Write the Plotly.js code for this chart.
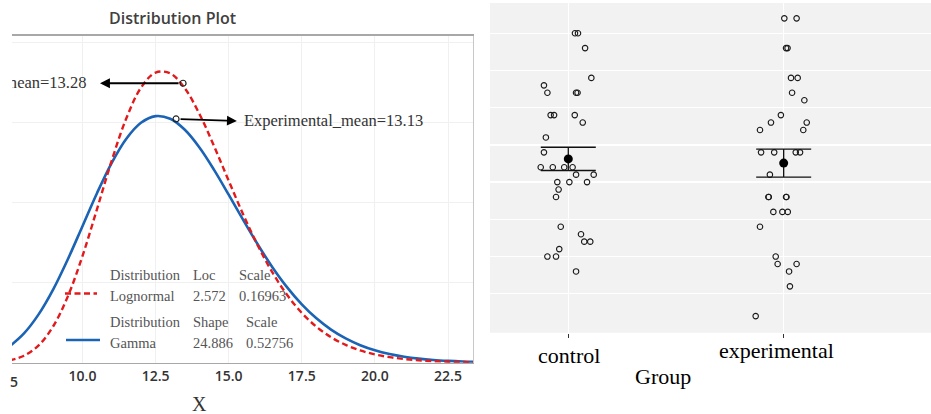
<!DOCTYPE html>
<html>
<head>
<meta charset="utf-8">
<script src="https://cdn.plot.ly/plotly-3.0.1.min.js"></script>
<style>html,body{margin:0;padding:0;background:#fff;}#chart{width:931px;height:414px;}</style>
</head>
<body>
<div id="chart"></div>
<script>
// ---------- Left panel: distribution curves ----------
const xValues = [7.5, 8, 8.5, 9, 9.5, 10, 10.5, 11, 11.5, 12, 12.5, 13, 13.5, 14, 14.5, 15, 15.5, 16, 16.5, 17, 17.5, 18, 18.5, 19, 19.5, 20, 20.5, 21, 21.5, 22, 22.5, 23, 23.5];
const lognormalDensity = [0.00143, 0.00434, 0.01082, 0.02277, 0.04145, 0.06663, 0.09614, 0.12626, 0.15271, 0.17178, 0.18128, 0.18075, 0.17138, 0.15536, 0.13530, 0.11367, 0.09246, 0.07306, 0.05623, 0.04227, 0.03110, 0.02245, 0.01592, 0.01112, 0.00764, 0.00519, 0.00348, 0.00231, 0.00152, 0.00099, 0.00064, 0.00041, 0.00026];
const gammaDensity = [0.01010, 0.01831, 0.03019, 0.04583, 0.06464, 0.08531, 0.10605, 0.12486, 0.13995, 0.14992, 0.15407, 0.15239, 0.14550, 0.13444, 0.12049, 0.10497, 0.08904, 0.07367, 0.05955, 0.04709, 0.03648, 0.02771, 0.02066, 0.01515, 0.01092, 0.00774, 0.00541, 0.00373, 0.00254, 0.00170, 0.00113, 0.00074, 0.00048];
const xTickValues = [10, 12.5, 15, 17.5, 20, 22.5];
const meanLabels = ['Control_mean=13.28', 'Experimental_mean=13.13'];
const meanMarkerX = [13.44, 13.20];
const meanMarkerY = [0.1746, 0.1523];
const arrowTipX = [10.60, 15.28];
const arrowTipY = [0.1746, 0.1510];
const labelX = [10.137, 15.52];
const labelY = [0.1741, 0.1504];
const tableHeader1 = ['Distribution', 'Loc', 'Scale'];
const tableRow1 = ['Lognormal', '2.572', '0.16963'];
const tableHeader2 = ['Distribution', 'Shape', 'Scale'];
const tableRow2 = ['Gamma', '24.886', '0.52756'];

// ---------- Right panel: jittered dot plot ----------
const groups = ['control', 'experimental'];
const controlValues = [17.5, 17.5, 17.0, 16.0, 15.75, 15.5, 15.5, 15.5, 14.75, 14.75, 14.75, 14.5, 14.0, 13.5, 13.0, 13.0, 13.0, 13.0, 12.75, 12.75, 12.5, 12.5, 12.5, 12.25, 12.0, 11.0, 10.75, 10.5, 10.5, 10.25, 10.0, 10.0, 9.5];
const controlJitter = [0.031, 0.045, 0.078, 0.107, -0.113, -0.097, 0.036, 0.043, -0.082, -0.066, 0.030, 0.067, -0.104, -0.113, -0.128, -0.072, -0.019, 0.020, 0.036, 0.118, -0.051, 0.005, 0.087, -0.045, -0.057, -0.035, 0.059, 0.074, 0.102, -0.042, -0.097, -0.057, 0.036];
const experimentalValues = [18.0, 18.0, 17.0, 17.0, 16.0, 16.0, 15.5, 15.25, 14.75, 14.5, 14.5, 14.25, 14.25, 13.5, 13.5, 13.5, 13.5, 12.75, 12.0, 12.0, 12.0, 12.0, 11.5, 11.5, 11.5, 11.0, 10.0, 9.75, 9.75, 9.5, 9.0, 8.0];
const experimentalJitter = [0.003, 0.060, 0.011, 0.018, 0.034, 0.065, 0.039, 0.096, -0.013, -0.059, 0.107, -0.110, 0.091, -0.105, -0.044, 0.056, 0.076, -0.064, -0.071, -0.069, 0.011, 0.013, -0.048, -0.006, 0.019, -0.110, -0.037, -0.028, 0.060, 0.025, 0.029, -0.130];
const groupMeans = [13.28, 13.14];
const groupErrPlus = [0.39, 0.47];
const groupErrMinus = [0.39, 0.47];
const yGridValues = [8.75, 10, 11.25, 12.5, 13.75, 15, 16.25, 17.5];

// ---------- helpers (pixel -> paper) ----------
const W = 931, H = 414;
const px = v => v / W;
const py = v => 1 - v / H;
const SERIF = 'Liberation Serif, Times New Roman, serif';
const SANS = 'Open Sans, Noto Sans, sans-serif';

const traces = [
  { x: xValues, y: gammaDensity, type: 'scatter', mode: 'lines', xaxis: 'x', yaxis: 'y',
    line: { color: '#1b63b5', width: 2.6, shape: 'spline' }, hoverinfo: 'skip' },
  { x: xValues, y: lognormalDensity, type: 'scatter', mode: 'lines', xaxis: 'x', yaxis: 'y',
    line: { color: '#e31a1c', width: 2.4, dash: '6px,3.5px', shape: 'spline' }, hoverinfo: 'skip' },
  { x: meanMarkerX, y: meanMarkerY, type: 'scatter', mode: 'markers', xaxis: 'x', yaxis: 'y',
    marker: { symbol: 'circle-open', size: 6, color: '#222', line: { width: 1.2, color: '#222' } }, hoverinfo: 'skip' },
  // mean labels as text clipped to the plot area (the control label runs past the left edge)
  { x: [labelX[0]], y: [labelY[0]], type: 'scatter', mode: 'text', xaxis: 'x', yaxis: 'y', cliponaxis: true,
    text: [meanLabels[0]], textposition: 'middle left', textfont: { family: SERIF, size: 16.5, color: '#333' }, hoverinfo: 'skip' },
  { x: [labelX[1]], y: [labelY[1]], type: 'scatter', mode: 'text', xaxis: 'x', yaxis: 'y', cliponaxis: true,
    text: [meanLabels[1]], textposition: 'middle right', textfont: { family: SERIF, size: 16.5, color: '#333' }, hoverinfo: 'skip' },
  { x: controlJitter.map(j => 1 + j), y: controlValues, type: 'scatter', mode: 'markers', xaxis: 'x2', yaxis: 'y2',
    marker: { symbol: 'circle-open', size: 5.5, color: '#1a1a1a', line: { width: 1.1, color: '#1a1a1a' } }, hoverinfo: 'skip' },
  { x: experimentalJitter.map(j => 2 + j), y: experimentalValues, type: 'scatter', mode: 'markers', xaxis: 'x2', yaxis: 'y2',
    marker: { symbol: 'circle-open', size: 5.5, color: '#1a1a1a', line: { width: 1.1, color: '#1a1a1a' } }, hoverinfo: 'skip' },
  { x: [1, 2], y: groupMeans, type: 'scatter', mode: 'markers', xaxis: 'x2', yaxis: 'y2',
    marker: { symbol: 'circle', size: 9, color: '#000' },
    error_y: { type: 'data', symmetric: false, array: groupErrPlus, arrayminus: groupErrMinus,
      width: 27.5, thickness: 1.3, color: '#111' }, hoverinfo: 'skip' }
];

const annotations = [];
annotations.push({ text: 'Distribution Plot', xref: 'paper', yref: 'paper', x: px(172), y: py(18),
  xanchor: 'center', yanchor: 'middle', showarrow: false, font: { family: SANS, size: 16, weight: 600, color: '#404040' } });
annotations.push({ text: 'X', xref: 'paper', yref: 'paper', x: px(199), y: py(404), xanchor: 'center', yanchor: 'middle',
  showarrow: false, font: { family: SERIF, size: 20, color: '#333' } });
annotations.push({ text: '5', xref: 'paper', yref: 'paper', x: px(13.5), y: py(381.5), xanchor: 'center', yanchor: 'middle',
  showarrow: false, font: { family: SANS, size: 14, weight: 600, color: '#333' } });
for (let i = 0; i < 2; i++) {
  annotations.push({ x: arrowTipX[i], y: arrowTipY[i], ax: meanMarkerX[i], ay: meanMarkerY[i], axref: 'x', ayref: 'y',
    xref: 'x', yref: 'y', text: '', showarrow: true, arrowhead: 2, arrowsize: 1.1, arrowwidth: 1.8, arrowcolor: '#000',
    startstandoff: 3 });
}
const tableRows = [[tableHeader1, 275, [108, 191, 237]], [tableRow1, 296, [108, 191, 237]],
                   [tableHeader2, 321.5, [108, 191, 244]], [tableRow2, 342.5, [108, 191, 244]]];
tableRows.forEach(([cells, yy, cols]) => {
  cells.forEach((c, j) => annotations.push({ text: c, xref: 'paper', yref: 'paper', x: px(cols[j]), y: py(yy),
    xanchor: 'left', yanchor: 'middle', showarrow: false, font: { family: SERIF, size: 14.5, color: '#555' } }));
});
annotations.push({ text: groups[0], xref: 'paper', yref: 'paper', x: px(569), y: py(355), xanchor: 'center', yanchor: 'middle',
  showarrow: false, font: { family: SERIF, size: 22, color: '#000' } });
annotations.push({ text: groups[1], xref: 'paper', yref: 'paper', x: px(776.5), y: py(350), xanchor: 'center', yanchor: 'middle',
  showarrow: false, font: { family: SERIF, size: 22, color: '#000' } });
annotations.push({ text: 'Group', xref: 'paper', yref: 'paper', x: px(662.5), y: py(376), xanchor: 'center', yanchor: 'middle',
  showarrow: false, font: { family: SERIF, size: 22, color: '#000' } });

const shapes = [
  { type: 'rect', xref: 'x2 domain', yref: 'y2 domain', x0: 0, x1: 1, y0: 0, y1: 1, layer: 'below',
    fillcolor: '#f2f2f2', line: { width: 0 } },
  { type: 'line', xref: 'paper', yref: 'paper', x0: px(65), x1: px(97), y0: py(293.5), y1: py(293.5),
    line: { color: '#e31a1c', width: 2.4, dash: '6px,3.5px' } },
  { type: 'line', xref: 'paper', yref: 'paper', x0: px(66), x1: px(100), y0: py(340), y1: py(340),
    line: { color: '#1b63b5', width: 2.6 } }
];

const layout = {
  width: W, height: H, margin: { l: 0, r: 0, t: 0, b: 0 }, showlegend: false,
  paper_bgcolor: '#fff', plot_bgcolor: '#fff',
  xaxis: { domain: [px(12), px(473)], range: [7.59, 23.355], tickvals: xTickValues, tickformat: '.1f',
    showgrid: true, gridcolor: '#f0f0f0', gridwidth: 1, zeroline: false, showline: true, linecolor: '#a8a8a8',
    linewidth: 1.3, mirror: true, ticks: '', tickfont: { family: SANS, size: 14, weight: 600, color: '#333' }, anchor: 'y' },
  yaxis: { domain: [py(362.7), py(35.7)], range: [0, 0.2043], tickvals: [0.05, 0.1, 0.15, 0.2], showticklabels: false,
    showgrid: true, gridcolor: '#f0f0f0', zeroline: false, showline: true, side: 'right', linecolor: '#c8c8c8',
    linewidth: 1.2, ticks: '', anchor: 'x' },
  xaxis2: { domain: [px(490), 1], range: [0.6365, 2.684], tickvals: [1, 2], showticklabels: false, ticks: 'outside',
    ticklen: 4, tickwidth: 1, tickcolor: '#333', showgrid: true, gridcolor: '#ffffff', gridwidth: 1.3, zeroline: false,
    showline: false, anchor: 'y2' },
  yaxis2: { domain: [py(332.7), py(3)], range: [7.443, 18.515], tickvals: yGridValues, showticklabels: false, ticks: '',
    showgrid: true, gridcolor: '#ffffff', gridwidth: 1.3, zeroline: false, showline: false, anchor: 'x2' },
  annotations: annotations,
  shapes: shapes
};

Plotly.newPlot('chart', traces, layout, { displayModeBar: false, staticPlot: true });
</script>
</body>
</html>
